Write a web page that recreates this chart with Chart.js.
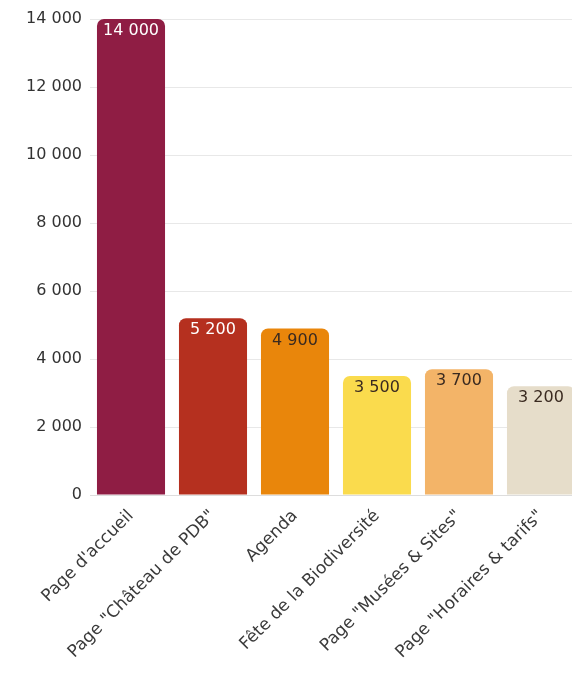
<!DOCTYPE html>
<html>
<head>
<meta charset="utf-8">
<script src="https://cdn.jsdelivr.net/npm/chart.js@4.4.1/dist/chart.umd.min.js"></script>
<style>
  html, body { margin: 0; padding: 0; background: #fff; overflow: hidden; }
  .chart-wrapper { position: relative; width: 582px; height: 673px; }
</style>
</head>
<body>
<div class="chart-wrapper">
  <canvas id="chart"></canvas>
</div>
<script>
// Page views per page
const pages = [
  "Page d'accueil",
  'Page "Château de PDB"',
  "Agenda",
  "Fête de la Biodiversité",
  'Page "Musées & Sites"',
  'Page "Horaires & tarifs"'
];
const views = [14000, 5200, 4900, 3500, 3700, 3200];
const barColors = ["#8f1d44", "#b5301f", "#e9860b", "#fadb4d", "#f3b468", "#e6ddca"];
const labelColors = ["#ffffff", "#ffffff", "#3a2a20", "#3a2a20", "#3a2a20", "#3a2a20"];

const fontFamily = "'DejaVu Sans', sans-serif";

// space as thousands separator, like "14 000"
const fmt = (v) => String(v).replace(/\B(?=(\d{3})+(?!\d))/g, " ");

// draws the value at the top, inside each bar
const valueLabels = {
  id: "valueLabels",
  afterDatasetsDraw(chart) {
    const ctx = chart.ctx;
    const meta = chart.getDatasetMeta(0);
    ctx.save();
    ctx.font = "16px " + fontFamily;
    ctx.textAlign = "center";
    ctx.textBaseline = "middle";
    meta.data.forEach((bar, i) => {
      ctx.fillStyle = labelColors[i];
      ctx.fillText(fmt(views[i]), bar.x, bar.y + 12);
    });
    ctx.restore();
  }
};

const ctx = document.getElementById("chart").getContext("2d");
new Chart(ctx, {
  type: "bar",
  data: {
    labels: pages,
    datasets: [{
      data: views,
      backgroundColor: barColors,
      borderRadius: 7,
      barPercentage: 0.83,
      categoryPercentage: 1
    }]
  },
  options: {
    responsive: true,
    maintainAspectRatio: false,
    animation: false,
    layout: { padding: { top: 19, left: 0, right: 0, bottom: 0 } },
    plugins: {
      legend: { display: false },
      tooltip: { enabled: false }
    },
    scales: {
      x: {
        grid: { display: false },
        border: { color: "#dddddd" },
        afterFit: (scale) => { scale.height = 178; },
        ticks: {
          color: "#3a3a3a",
          maxRotation: 45,
          minRotation: 45,
          font: { family: fontFamily, size: 17 }
        }
      },
      y: {
        min: 0,
        max: 14000,
        grid: { color: "#e8e8e8", drawTicks: false },
        border: { display: false },
        afterFit: (scale) => { scale.width = 90; },
        ticks: {
          stepSize: 2000,
          padding: 8,
          color: "#333333",
          font: { family: fontFamily, size: 16 },
          callback: (v) => fmt(v)
        }
      }
    }
  },
  plugins: [valueLabels]
});
</script>
</body>
</html>
